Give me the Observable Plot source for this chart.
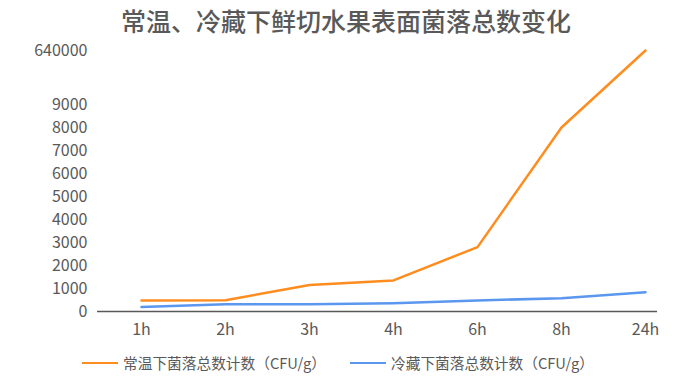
<!DOCTYPE html>
<html>
<head>
<meta charset="utf-8">
<script src="https://cdn.jsdelivr.net/npm/d3@7"></script>
<script src="https://cdn.jsdelivr.net/npm/@observablehq/plot@0.6"></script>
<style>
  html, body { margin: 0; padding: 0; background: #fff; }
  body { width: 692px; height: 384px; overflow: hidden; font-family: "Noto Sans CJK SC", "Noto Sans", sans-serif; color: #595959; }
  #title { height: 36px; line-height: 40px; text-align: center; font-size: 25px; font-weight: 500; color: #595959; }
  #legend { position: relative; height: 34px; font-size: 14.7px; color: #595959; }
  .item { position: absolute; top: 1px; height: 24px; line-height: 24px; display: flex; align-items: center; white-space: nowrap; }
  .swatch { display: inline-block; width: 36px; height: 0; border-top: 2.5px solid; margin-right: 5px; }
</style>
</head>
<body>
<div id="title">常温、冷藏下鲜切水果表面菌落总数变化</div>
<div id="chart"></div>
<div id="legend"></div>
<script>
const categories = ["1h", "2h", "3h", "4h", "6h", "8h", "24h"];
const roomTemp = [480, 490, 1150, 1350, 2800, 8000, 640000];
const chilled = [200, 310, 320, 360, 480, 580, 840];
const seriesNames = ["常温下菌落总数计数（CFU/g）", "冷藏下菌落总数计数（CFU/g）"];
const colors = ["#FF8C1F", "#5B97EE"];
const yTicks = [0, 1000, 2000, 3000, 4000, 5000, 6000, 7000, 8000, 9000, 640000];

const data = [];
categories.forEach((c, i) => {
  data.push({t: c, v: roomTemp[i], s: seriesNames[0]});
  data.push({t: c, v: chilled[i], s: seriesNames[1]});
});

const chart = Plot.plot({
  width: 692,
  height: 314,
  marginLeft: 97,
  marginRight: 35,
  marginTop: 0,
  marginBottom: 39,
  style: {fontFamily: "'Noto Sans CJK SC', 'Noto Sans', sans-serif", fontSize: "16px", color: "#595959", background: "#fff"},
  x: {type: "point", domain: categories, padding: 0, insetLeft: 43, insetRight: 12, label: null},
  y: {type: "linear", domain: [0, 9000, 640000], range: [275, 68, 14], label: null},
  color: {domain: seriesNames, range: colors},
  marks: [
    Plot.axisY({ticks: yTicks, tickSize: 0, tickPadding: 10, tickFormat: d => String(d), label: null, fontSize: 16}),
    Plot.axisX({tickSize: 0, tickPadding: 12, label: null, fontSize: 16}),
    Plot.ruleY([0], {stroke: "#595959", strokeWidth: 1.5}),
    Plot.line(data, {x: "t", y: "v", z: "s", stroke: "s", strokeWidth: 2.5})
  ]
});
document.getElementById("chart").appendChild(chart);

const legend = document.getElementById("legend");
const lefts = [82, 350];
seriesNames.forEach((name, i) => {
  const item = document.createElement("div");
  item.className = "item";
  item.style.left = lefts[i] + "px";
  const sw = document.createElement("span");
  sw.className = "swatch";
  sw.style.borderTopColor = colors[i];
  const tx = document.createElement("span");
  tx.textContent = name;
  item.appendChild(sw);
  item.appendChild(tx);
  legend.appendChild(item);
});
</script>
</body>
</html>
